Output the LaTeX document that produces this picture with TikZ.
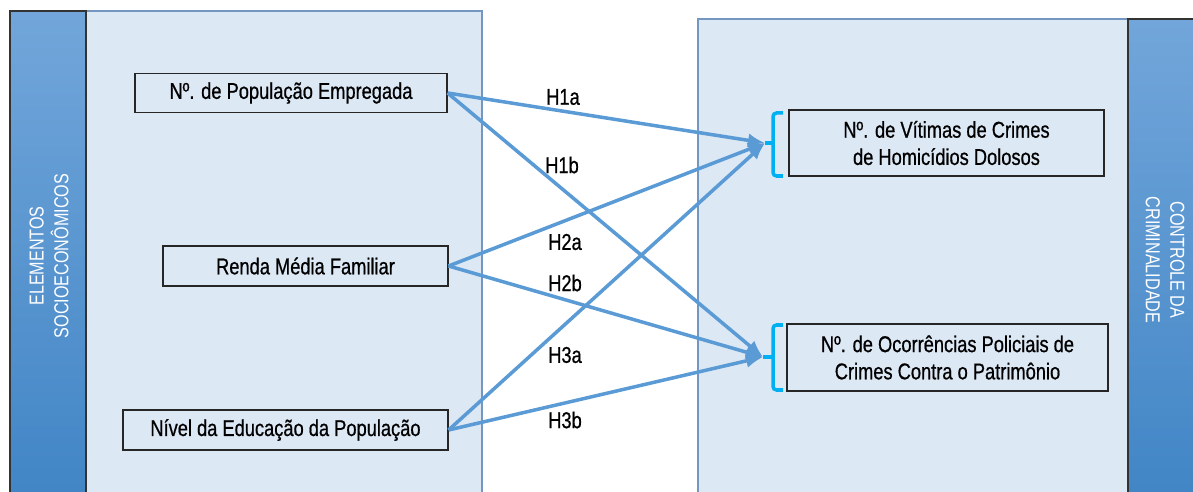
\documentclass[tikz,border=0pt]{standalone}
\usepackage{fontspec}
\usetikzlibrary{arrows.meta}
\setmainfont[FakeStretch=0.8, FakeBold=0.7]{Liberation Sans}
\newfontfamily\barfont[FakeStretch=0.8]{Liberation Sans}
\definecolor{panelfill}{HTML}{DDE8F5}
\definecolor{panelline}{HTML}{7497C2}
\definecolor{bartop}{HTML}{72A6DA}
\definecolor{barbottom}{HTML}{3F84C5}
\definecolor{arrowblue}{HTML}{5B9BD5}
\definecolor{bracketblue}{HTML}{00B0F0}

\tikzset{
  panel/.style   = {draw=panelline, fill=panelfill, line width=0.8pt},
  bar/.style     = {draw=black!80, top color=bartop, bottom color=barbottom, line width=0.8pt},
  bartext/.style = {text=white, align=center, font=\barfont\fontsize{11.5}{14}\selectfont},
  varbox/.style  = {draw=black!85, line width=0.7pt, align=center, inner sep=0pt,
                    font=\fontsize{13}{15.5}\selectfont},
  hyp/.style     = {draw=arrowblue, line width=2pt, -{Latex[length=0.34cm, width=0.28cm]}},
  hlabel/.style  = {font=\fontsize{13}{15}\selectfont},
  bracket/.style = {draw=bracketblue, line width=2pt, rounded corners=2pt}
}

\begin{document}
\begin{tikzpicture}[x=0.02cm, y=-0.02cm]
\useasboundingbox (0,0) rectangle (1193,492);

% background panels and bars
\draw[panel] (86,11) rectangle (482,520);
\draw[bar] (10,11) rectangle (86,520);
\draw[panel] (698,19) rectangle (1128,520);
\draw[bar] (1128,19) rectangle (1210,520);
\node[bartext, rotate=90] (socio) at (49,256) {ELEMENTOS\\SOCIOECONÔMICOS};
\node[bartext, rotate=-90] (crim) at (1165,260) {CONTROLE DA\\CRIMINALIDADE};

% independent variables
\node[varbox, minimum width=6.24cm, minimum height=0.78cm] (emp) at (291,93) {Nº. de População Empregada};
\node[varbox, minimum width=5.7cm, minimum height=0.8cm] (renda) at (305.5,266) {Renda Média Familiar};
\node[varbox, minimum width=6.5cm, minimum height=0.8cm] (educ) at (285.5,430) {Nível da Educação da População};

% dependent variables
\node[varbox, minimum width=6.3cm, minimum height=1.32cm] (vit) at (946.5,143) {Nº. de Vítimas de Crimes\\de Homicídios Dolosos};
\node[varbox, minimum width=6.42cm, minimum height=1.34cm] (ocor) at (947.5,357.5) {Nº. de Ocorrências Policiais de\\Crimes Contra o Patrimônio};

% brackets
\draw[bracket] (783,113) -- (773,113) -- (773,176) -- (783,176);
\draw[bracket] (783,325) -- (773,325) -- (773,390) -- (783,390);
\coordinate (t1) at (765,143);
\coordinate (t2) at (763,357);
\draw[bracket, rounded corners=0pt] (773,143) -- (t1);
\draw[bracket, rounded corners=0pt] (773,357) -- (t2);

% hypotheses
\draw[hyp] (emp.east) -- (t1);
\draw[hyp] (emp.east) -- (t2);
\draw[hyp] (renda.east) -- (t1);
\draw[hyp] (renda.east) -- (t2);
\draw[hyp] (educ.east) -- (t1);
\draw[hyp] (educ.east) -- (t2);

\node[hlabel] (h1a) at (563,97) {H1a};
\node[hlabel] (h1b) at (562,165) {H1b};
\node[hlabel] (h2a) at (565,242) {H2a};
\node[hlabel] (h2b) at (565,283) {H2b};
\node[hlabel] (h3a) at (565,355) {H3a};
\node[hlabel] (h3b) at (565,420) {H3b};
\end{tikzpicture}
\end{document}
